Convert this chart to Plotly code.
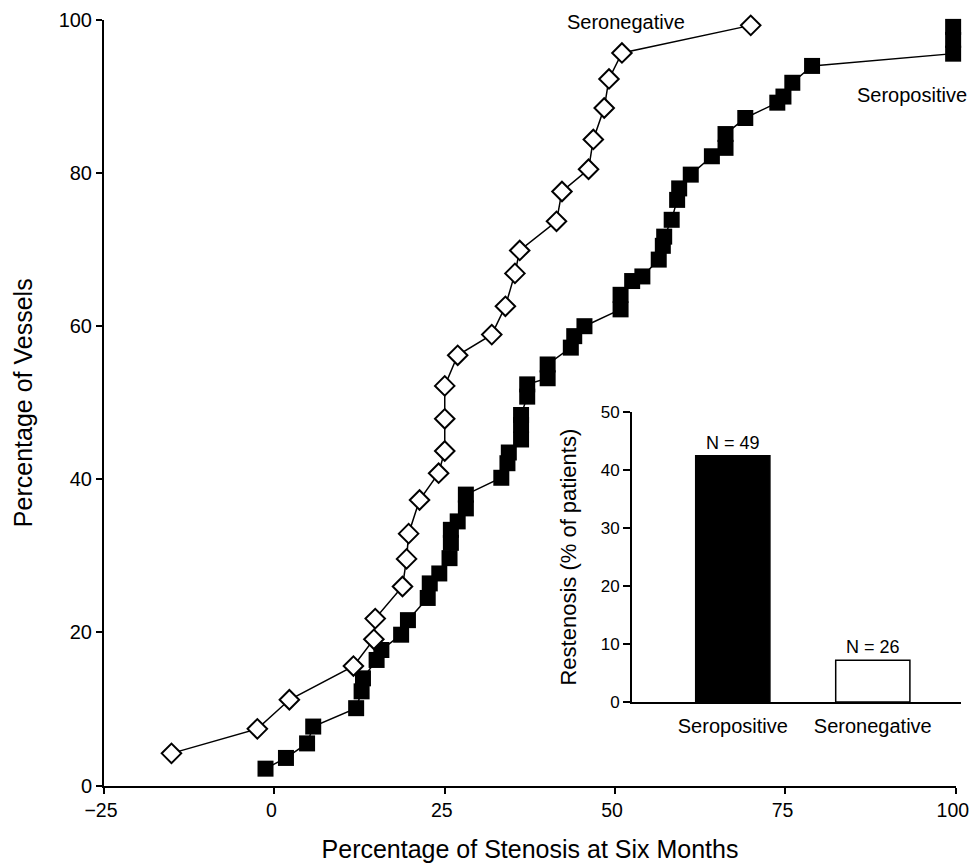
import plotly.graph_objects as go

# Seronegative cumulative distribution (open diamonds)
neg_x = [-15.1, -2.5, 2.2, 11.6, 14.6, 14.8, 18.8, 19.4, 19.7, 21.3, 24.1, 25.0, 25.0, 25.0,
         26.9, 31.9, 33.9, 35.3, 36.0, 41.4, 42.2, 46.1, 46.8, 48.4, 49.1, 51.0, 69.9]
neg_y = [4.2, 7.4, 11.2, 15.6, 19.1, 21.8, 26.0, 29.6, 32.9, 37.3, 40.8, 43.7, 47.9, 52.2,
         56.2, 58.9, 62.6, 66.9, 69.9, 73.7, 77.6, 80.5, 84.4, 88.5, 92.3, 95.7, 99.3]

# Seropositive cumulative distribution (filled squares)
pos_x = [-1.3, 1.7, 4.8, 5.7, 12.0, 12.8, 13.0, 15.0, 15.7, 18.6, 19.6, 22.5, 22.8, 24.2,
         25.7, 25.9, 25.9, 26.9, 28.1, 28.1, 33.3, 34.2, 34.4, 36.2, 36.2, 36.2, 37.1, 37.1,
         40.1, 40.1, 43.5, 44.0, 45.5, 50.8, 50.8, 52.5, 54.0, 56.4, 57.0, 57.2, 58.3, 59.1,
         59.4, 61.1, 64.2, 66.2, 66.2, 69.1, 73.8, 74.7, 76.0, 78.9, 99.6, 99.6, 99.6]
pos_y = [2.2, 3.6, 5.5, 7.7, 10.1, 12.3, 14.0, 16.4, 17.7, 19.7, 21.6, 24.5, 26.4, 27.7,
         29.7, 31.7, 33.4, 34.5, 36.2, 38.0, 40.2, 42.1, 43.5, 45.2, 47.1, 48.4, 50.8, 52.4,
         53.2, 55.0, 57.2, 58.7, 60.0, 62.2, 64.1, 65.9, 66.5, 68.7, 70.5, 71.7, 73.9, 76.5,
         78.0, 79.8, 82.2, 83.3, 85.1, 87.2, 89.2, 90.0, 91.8, 94.0, 95.6, 97.4, 99.1]

x_ticks = [-25, 0, 25, 50, 75, 100]
y_ticks = [0, 20, 40, 60, 80, 100]

# Inset bar chart
bar_cats = ["Seropositive", "Seronegative"]
bar_vals = [42.5, 7.2]
bar_n = ["N = 49", "N = 26"]
inset_ticks = [0, 10, 20, 30, 40, 50]

FONT = "Liberation Sans, Arial, Helvetica, sans-serif"
W, H = 971, 863

fig = go.Figure()

fig.add_trace(go.Scatter(
    x=pos_x, y=pos_y, mode="lines+markers", name="Seropositive",
    line=dict(color="black", width=1.5),
    marker=dict(symbol="square", size=16, color="black", line=dict(width=0)),
    cliponaxis=False, showlegend=False, xaxis="x", yaxis="y"))

fig.add_trace(go.Scatter(
    x=neg_x, y=neg_y, mode="lines+markers", name="Seronegative",
    line=dict(color="black", width=1.5),
    marker=dict(symbol="diamond", size=15, color="white", line=dict(color="black", width=2)),
    cliponaxis=False, showlegend=False, xaxis="x", yaxis="y"))

fig.add_trace(go.Bar(
    x=bar_cats, y=bar_vals, width=0.53,
    marker=dict(color=["black", "white"], line=dict(color="black", width=1.5)),
    text=bar_n, textposition="outside", cliponaxis=False,
    textfont=dict(family=FONT, size=18, color="black"),
    showlegend=False, xaxis="x2", yaxis="y2"))

fig.add_annotation(x=51.6, y=99.8, xref="x", yref="y", text="Seronegative",
                   showarrow=False, font=dict(family=FONT, size=20, color="black"))
fig.add_annotation(x=93.6, y=90.2, xref="x", yref="y", text="Seropositive",
                   showarrow=False, font=dict(family=FONT, size=20, color="black"))

axis_common = dict(showline=True, linecolor="black", linewidth=2, ticks="outside",
                   tickcolor="black", tickwidth=1.5, showgrid=False, zeroline=False,
                   automargin=False, ticklabeloverflow="allow")

fig.update_layout(
    width=W, height=H, margin=dict(l=0, r=0, t=0, b=0),
    paper_bgcolor="white", plot_bgcolor="rgba(0,0,0,0)",
    font=dict(family=FONT, color="black"),
    xaxis=dict(domain=[104 / W, 956 / W], range=[-25, 100.02], tickvals=x_ticks, ticklen=6,
               tickfont=dict(family=FONT, size=19.5, color="black"), ticklabelshift=-3,
               title=dict(text="Percentage of Stenosis at Six Months",
                          font=dict(family=FONT, size=25), standoff=22),
               anchor="y", **axis_common),
    yaxis=dict(domain=[1 - 785.5 / H, 1 - 20 / H], range=[0, 100], tickvals=y_ticks, ticklen=6,
               tickfont=dict(family=FONT, size=20, color="black"),
               title=dict(text="Percentage of Vessels", font=dict(family=FONT, size=25),
                          standoff=19),
               anchor="x", **axis_common),
    xaxis2=dict(domain=[632 / W, 961 / W], range=[-0.72, 1.63], anchor="y2",
                showline=True, linecolor="black", linewidth=2, ticks="", showgrid=False,
                zeroline=False, automargin=False, ticklabelstandoff=5,
                tickfont=dict(family=FONT, size=20, color="black")),
    yaxis2=dict(domain=[1 - 702 / H, 1 - 412.3 / H], range=[0, 50], tickvals=inset_ticks,
                ticklen=7, anchor="x2",
                tickfont=dict(family=FONT, size=17, color="black"),
                title=dict(text="Restenosis (% of patients)", font=dict(family=FONT, size=22),
                           standoff=18),
                **axis_common),
)

fig.write_html("out.html", config={"displayModeBar": False},
               post_script="document.body.style.margin='0px';")
